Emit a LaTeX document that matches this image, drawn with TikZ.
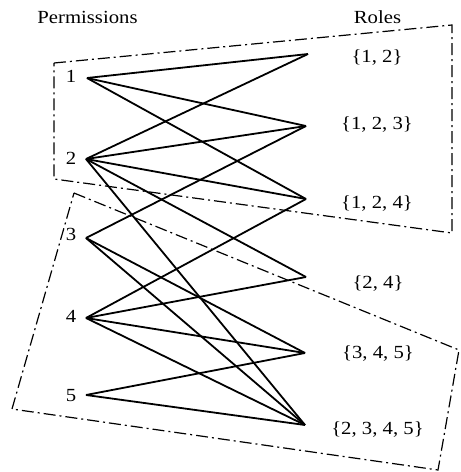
\documentclass[tikz,border=0pt]{standalone}
\usepackage{fontspec}
\setmainfont{Liberation Serif}[FakeStretch=1.12]
\begin{document}
\begin{tikzpicture}[x=1pt,y=-1pt,
  edge/.style={line width=1.8pt},
  grp/.style={line width=1.2pt, dash pattern=on 12pt off 4pt on 2pt off 4pt},
  lbl/.style={font=\fontsize{18.5}{20}\selectfont, inner sep=0pt, anchor=base}]
\useasboundingbox (0,0) rectangle (461,472);
% titles
\node[lbl] (tp) at (87.5,23) {Permissions};
\node[lbl] (tr) at (377.5,23) {Roles};
% permission points
\coordinate (p1) at (87,78);
\coordinate (p2) at (86,159);
\coordinate (p3) at (86,238);
\coordinate (p4) at (86,318);
\coordinate (p5) at (86,395);
\node[lbl] (l1) at (71,82) {1};
\node[lbl] (l2) at (71,164) {2};
\node[lbl] (l3) at (71,240) {3};
\node[lbl] (l4) at (71,322) {4};
\node[lbl] (l5) at (71,401) {5};
% role points
\coordinate (ra) at (308,54);
\coordinate (rb) at (306,126);
\coordinate (rc) at (306,199);
\coordinate (rd) at (306,277);
\coordinate (re) at (305,353);
\coordinate (rf) at (305,425);
\node[lbl] (la) at (377,62) {\{1, 2\}};
\node[lbl] (lb) at (377,129) {\{1, 2, 3\}};
\node[lbl] (lc) at (377,208) {\{1, 2, 4\}};
\node[lbl] (ld) at (378,288) {\{2, 4\}};
\node[lbl] (le) at (378,358) {\{3, 4, 5\}};
\node[lbl] (lf) at (377.5,434) {\{2, 3, 4, 5\}};
% edges
\draw[edge] (p1) -- (ra);
\draw[edge] (p1) -- (rb);
\draw[edge] (p1) -- (rc);
\draw[edge] (p2) -- (ra);
\draw[edge] (p2) -- (rb);
\draw[edge] (p2) -- (rc);
\draw[edge] (p2) -- (rd);
\draw[edge] (p2) -- (rf);
\draw[edge] (p3) -- (rb);
\draw[edge] (p3) -- (re);
\draw[edge] (p3) -- (rf);
\draw[edge] (p4) -- (rc);
\draw[edge] (p4) -- (rd);
\draw[edge] (p4) -- (re);
\draw[edge] (p4) -- (rf);
\draw[edge] (p5) -- (re);
\draw[edge] (p5) -- (rf);
% groups
\coordinate (ga1) at (54,63);
\coordinate (ga2) at (452,25);
\coordinate (ga3) at (452,233);
\coordinate (ga4) at (54,179);
\draw[grp] (ga1) -- (ga2) -- (ga3) -- (ga4) -- cycle;
\coordinate (gb1) at (74,193);
\coordinate (gb2) at (459,350);
\coordinate (gb3) at (438,470);
\coordinate (gb4) at (12,409);
\draw[grp] (gb1) -- (gb2) -- (gb3) -- (gb4) -- cycle;
\end{tikzpicture}
\end{document}
